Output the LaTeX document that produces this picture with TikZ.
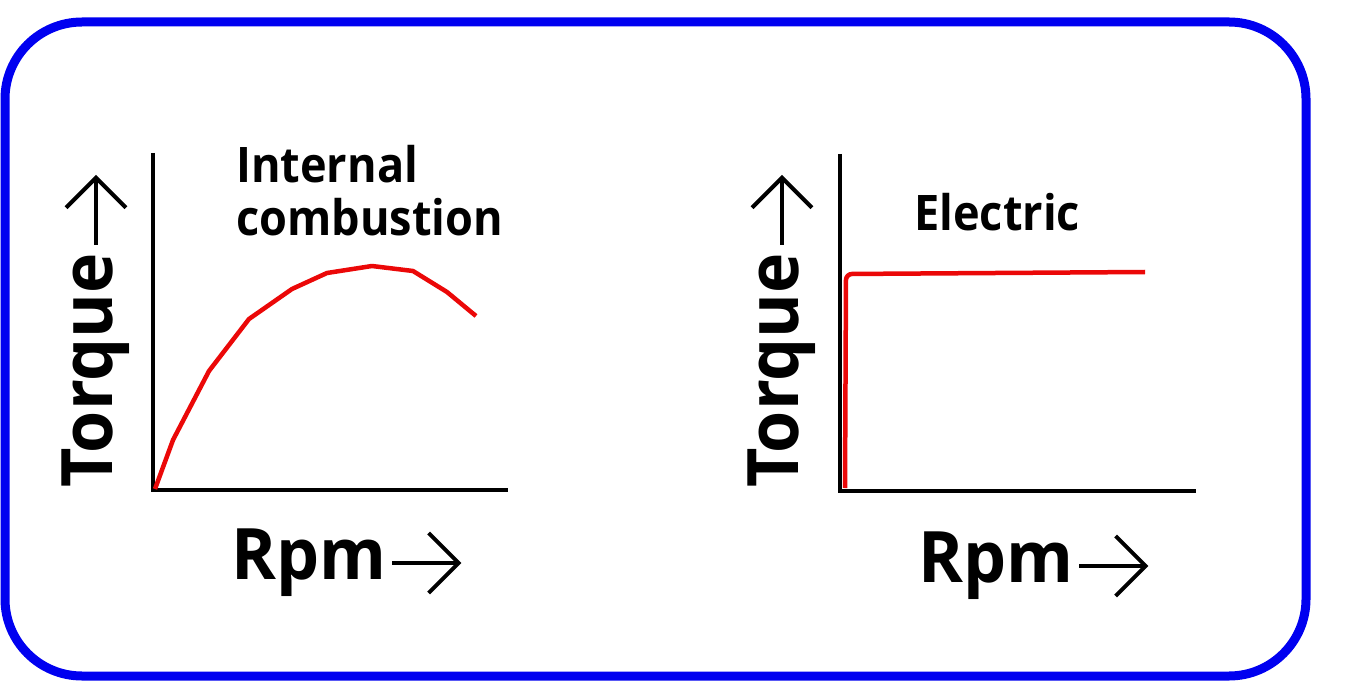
\documentclass[tikz,border=0pt]{standalone}
\usepackage{fontspec}
\setmainfont{Open Sans}[FakeStretch=0.96]
\newfontfamily\ttlfont{Open Sans}[FakeStretch=0.92]
\usepackage{tikz}
\usetikzlibrary{arrows.meta,positioning}
\definecolor{frameblue}{RGB}{0,0,240}
\definecolor{curvered}{RGB}{235,8,8}
\tikzstyle{frame}=[
	draw=frameblue,
	line width=9,
	rounded corners=77]
\tikzstyle{axis}=[
	line width=4.5,
	black]
\tikzstyle{curve}=[
	line width=4.5,
	curvered,
	line join=round]
\tikzstyle{title}=[
	font=\ttlfont\fontsize{49}{53}\selectfont\bfseries,
	align=left,
	inner sep=0]
\tikzstyle{axlabel}=[
	font=\fontsize{71}{80}\selectfont\bfseries,
	inner sep=0]
\tikzstyle{labarrow}=[
	line width=4,
	->]

\begin{document}
\begin{tikzpicture}[x=1pt,y=-1pt,>={Straight Barb[length=30pt,width=60pt]}]
		\useasboundingbox (0,0) rectangle (1348,700);
		\draw[frame] (5,22) rectangle (1306,676);
		% internal combustion
		\coordinate (oIC) at (153,490);
		\coordinate (yIC) at (153,153);
		\coordinate (xIC) at (508,490);
		\draw[axis] (yIC) -- (oIC) -- (xIC);
		\draw[curve] plot coordinates {(155,489) (173,440) (209,371) (249,319) (292,289)
			(327,273) (372,266) (413,271) (447,292) (476,316)};
		\node[title,anchor=north west] (ttlIC) at (236,145) {Internal\\combustion};
		\node[axlabel,rotate=90,anchor=base west] (tqIC) at (112,488) {Torque};
		\coordinate (tqICa) at ([xshift=-16,yshift=8]tqIC.base east);
		\coordinate (tqICb) at ([xshift=-16,yshift=78]tqIC.base east);
		\draw[labarrow] (tqICa) -- (tqICb);
		\node[axlabel,anchor=base west] (rpmIC) at (231,579) {Rpm};
		\coordinate (rpmICa) at ([xshift=6,yshift=16]rpmIC.base east);
		\coordinate (rpmICb) at ([xshift=75,yshift=16]rpmIC.base east);
		\draw[labarrow] (rpmICa) -- (rpmICb);
		% electric
		\coordinate (oEl) at (840,491);
		\coordinate (yEl) at (840,154);
		\coordinate (xEl) at (1196,491);
		\draw[axis] (yEl) -- (oEl) -- (xEl);
		\draw[curve,rounded corners=6] (845,488) -- (846,274) -- (1145,272);
		\node[title,anchor=base west] (ttlEl) at (914,231) {Electric};
		\node[axlabel,rotate=90,anchor=base west] (tqEl) at (798,488) {Torque};
		\coordinate (tqEla) at ([xshift=-16,yshift=8]tqEl.base east);
		\coordinate (tqElb) at ([xshift=-16,yshift=78]tqEl.base east);
		\draw[labarrow] (tqEla) -- (tqElb);
		\node[axlabel,anchor=base west] (rpmEl) at (918,582) {Rpm};
		\coordinate (rpmEla) at ([xshift=6,yshift=16]rpmEl.base east);
		\coordinate (rpmElb) at ([xshift=75,yshift=16]rpmEl.base east);
		\draw[labarrow] (rpmEla) -- (rpmElb);
	\end{tikzpicture}
\end{document}
